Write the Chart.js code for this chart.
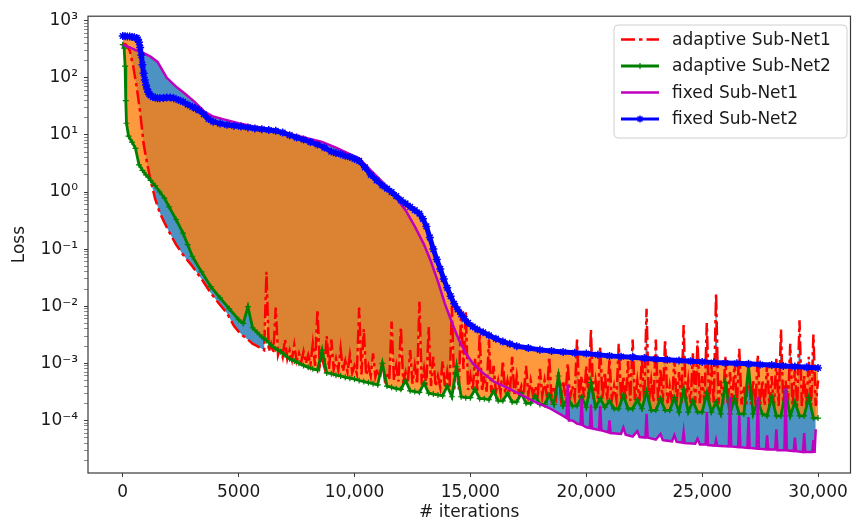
<!DOCTYPE html>
<html><head><meta charset="utf-8">
<script src="https://cdn.jsdelivr.net/npm/chart.js@4/dist/chart.umd.min.js"></script>
<style>html,body{margin:0;padding:0;background:#fff}#wrap{width:856px;height:524px}</style>
</head><body><div id="wrap"><canvas id="c" width="856" height="524"></canvas></div>
<script>
// ---------------- data ----------------
const seriesNames = ["adaptive Sub-Net1", "adaptive Sub-Net2", "fixed Sub-Net1", "fixed Sub-Net2"];
const xTickValues = [0, 5000, 10000, 15000, 20000, 25000, 30000];
const xTickLabels = ["0", "5000", "10,000", "15,000", "20,000", "25,000", "30,000"];
const yTickExps = [-4, -3, -2, -1, 0, 1, 2, 3];
const yTickLabels = ["10\u207B\u2074", "10\u207B\u00B3", "10\u207B\u00B2", "10\u207B\u00B9", "10\u2070", "10\u00B9", "10\u00B2", "10\u00B3"];

// adaptive Sub-Net1 (red)
const adaptive1EarlyIters = [0,150,300,450,600,750,900,1050,1200,1400,1600,1800,2000,2300,2600,3000,3400,3800,4200,4500,4800,5000];
const adaptive1Early = [400,380,300,160,70,25,7,3.2,1.6,0.75,0.43,0.29,0.2,0.12,0.08,0.05,0.03,0.017,0.0105,0.0075,0.0045,0.0036];
const adaptive1TailIters = [
 5100,5200,5300,5400,5500,5600,5700,5800,5900,6000, 6100,6200,6300,6400,6500,6600,6700,6800,6900,7000,
 7100,7200,7300,7400,7500,7600,7700,7800,7900,8000, 8100,8200,8300,8400,8500,8600,8700,8800,8900,9000,
 9100,9200,9300,9400,9500,9600,9700,9800,9900,10000, 10100,10200,10300,10400,10500,10600,10700,10800,10900,11000,
 11100,11200,11300,11400,11500,11600,11700,11800,11900,12000, 12100,12200,12300,12400,12500,12600,12700,12800,12900,13000,
 13100,13200,13300,13400,13500,13600,13700,13800,13900,14000, 14100,14200,14300,14400,14500,14600,14700,14800,14900,15000,
 15100,15200,15300,15400,15500,15600,15700,15800,15900,16000, 16100,16200,16300,16400,16500,16600,16700,16800,16900,17000,
 17100,17200,17300,17400,17500,17600,17700,17800,17900,18000, 18100,18200,18300,18400,18500,18600,18700,18800,18900,19000,
 19100,19200,19300,19400,19500,19600,19700,19800,19900,20000, 20100,20200,20300,20400,20500,20600,20700,20800,20900,21000,
 21100,21200,21300,21400,21500,21600,21700,21800,21900,22000, 22100,22200,22300,22400,22500,22600,22700,22800,22900,23000,
 23100,23200,23300,23400,23500,23600,23700,23800,23900,24000, 24100,24200,24300,24400,24500,24600,24700,24800,24900,25000,
 25100,25200,25300,25400,25500,25600,25700,25800,25900,26000, 26100,26200,26300,26400,26500,26600,26700,26800,26900,27000,
 27100,27200,27300,27400,27500,27600,27700,27800,27900,28000, 28100,28200,28300,28400,28500,28600,28700,28800,28900,29000,
 29100,29200,29300,29400,29500,29600,29700,29800,29900,30000];
const adaptive1Tail = [
 0.0033,0.0030,0.0028,0.0026,0.0024,0.0022,0.0021,0.0020,0.0019,0.0018, 0.0017,0.040,0.0016,0.0022,0.0015,0.0095,0.0014,0.0019,0.0013,0.0026,
 0.0012,0.0017,0.00115,0.0021,0.0011,0.0015,0.00105,0.0016,0.0010,0.0014, 0.00095,0.0022,0.0009,0.0086,0.00088,0.0012,0.00085,0.0030,0.0008,0.0026,
 0.00078,0.0012,0.00075,0.0018,0.00072,0.0011,0.0007,0.0014,0.00068,0.0009, 0.00066,0.0095,0.00064,0.0040,0.00062,0.0009,0.0006,0.0015,0.00058,0.0008,
 0.00055,0.0011,0.00053,0.0007,0.00051,0.0054,0.0005,0.0009,0.00048,0.0043, 0.00047,0.0007,0.00045,0.0017,0.00044,0.0009,0.00043,0.012,0.00042,0.0008,
 0.00041,0.0043,0.0004,0.0013,0.00039,0.0006,0.00038,0.0011,0.00037,0.0007, 0.00036,0.010,0.00035,0.0008,0.00035,0.0086,0.0008,0.0080,0.00034,0.0006,
 0.00033,0.0012,0.00033,0.0033,0.00032,0.0006,0.00032,0.0026,0.00031,0.0009, 0.00031,0.0005,0.0003,0.0011,0.0003,0.0005,0.0003,0.0013,0.00029,0.0006,
 0.00029,0.0004,0.00028,0.0009,0.00028,0.0005,0.00028,0.0004,0.00027,0.0008, 0.00027,0.0005,0.00027,0.0013,0.00026,0.0004,0.00026,0.0007,0.00026,0.0005,
 0.00026,0.0010,0.00025,0.0004,0.00025,0.0026,0.00025,0.0006,0.00025,0.0009, 0.00024,0.0039,0.00024,0.0005,0.00024,0.0019,0.00024,0.0007,0.00023,0.0012,
 0.00023,0.0004,0.00023,0.0022,0.00023,0.0006,0.00022,0.0011,0.00022,0.0026, 0.00022,0.0005,0.00022,0.0013,0.00021,0.0090,0.00021,0.0005,0.00021,0.0026,
 0.00021,0.0008,0.00021,0.0026,0.0002,0.0004,0.0002,0.0012,0.0002,0.0007, 0.0002,0.0047,0.0002,0.0005,0.0002,0.0015,0.0002,0.0025,0.0002,0.0006,
 0.0002,0.0051,0.0002,0.0009,0.0002,0.017,0.00019,0.0005,0.00019,0.0013, 0.00019,0.0007,0.00019,0.0011,0.00019,0.0018,0.00019,0.0004,0.00019,0.0009,
 0.00019,0.0005,0.00018,0.0014,0.00018,0.0005,0.00018,0.0010,0.00018,0.0006, 0.00018,0.0012,0.00018,0.0039,0.00018,0.0005,0.00018,0.0022,0.00018,0.0008,
 0.00018,0.0057,0.00018,0.0006,0.00018,0.0013,0.00018,0.0032,0.00018,0.0005];

// adaptive Sub-Net2 (green)
const adaptive2EarlyIters = [0,60,100,130,160,250,400,550,700,850,1000,1200,1400,1600,1800,2000,2300,2600,2800,3000,3400,3800,4200,4600,5000];
const adaptive2Early = [380,330,160,40,16,9.5,7.5,5.8,3.0,2.4,2.0,1.6,1.3,1.0,0.78,0.55,0.33,0.19,0.12,0.075,0.04,0.022,0.014,0.009,0.0058];
const adaptive2TailIters = [
 5200,5400,5600,5800,6000,6200,6400,6600,6800,7000, 7200,7400,7600,7800,8000,8200,8400,8600,8800,9000,
 9200,9400,9600,9800,10000,10200,10400,10600,10800,11000, 11200,11400,11600,11800,12000,12200,12400,12600,12800,13000,
 13200,13400,13600,13800,14000,14200,14400,14600,14800,15000, 15200,15400,15600,15800,16000,16200,16400,16600,16800,17000,
 17200,17400,17600,17800,18000,18200,18400,18600,18800,19000, 19200,19400,19600,19800,20000,20200,20400,20600,20800,21000,
 21200,21400,21600,21800,22000,22200,22400,22600,22800,23000, 23200,23400,23600,23800,24000,24200,24400,24600,24800,25000,
 25200,25400,25600,25800,26000,26200,26400,26600,26800,27000, 27200,27400,27600,27800,28000,28200,28400,28600,28800,29000,
 29200,29400,29600,29800,30000];
const adaptive2Tail = [
 0.0050,0.0098,0.0042,0.0035,0.0029,0.0025,0.0021,0.0018,0.0016,0.0014, 0.0012,0.0011,0.0010,0.00092,0.00085,0.00080,0.00076,0.0017,0.00068,0.00066,
 0.00062,0.0006,0.00057,0.00055,0.00053,0.0005,0.00048,0.00046,0.00044,0.00042, 0.0010,0.0004,0.00038,0.00036,0.00035,0.0005,0.00033,0.00032,0.00031,0.00045,
 0.0003,0.00029,0.00028,0.00027,0.0004,0.00026,0.00087,0.00026,0.00025,0.00025, 0.00035,0.00024,0.00024,0.00023,0.00033,0.00022,0.00022,0.0003,0.00021,0.00021,
 0.0003,0.0002,0.0002,0.00027,0.00019,0.00019,0.00028,0.00019,0.0006,0.00018, 0.00025,0.00018,0.00018,0.00026,0.00017,0.00046,0.00017,0.00024,0.00017,0.00022,
 0.00016,0.00016,0.00028,0.00016,0.00016,0.00023,0.00016,0.00032,0.00015,0.00015, 0.00024,0.00015,0.00015,0.00025,0.00014,0.00035,0.00014,0.00022,0.00014,0.00014,
 0.0003,0.00014,0.00021,0.00013,0.00046,0.00013,0.00024,0.00013,0.00013,0.00087, 0.00013,0.00022,0.00013,0.00012,0.00026,0.00012,0.00012,0.00032,0.00012,0.00021,
 0.00012,0.00012,0.00025,0.00011,0.00011];

// fixed Sub-Net1 (magenta)
const fixed1Iters = [0,300,600,900,1200,1500,1900,2300,2700,3100,3500,3900,4400,5000,5600,6200,6800,7400,8000,8600,
 9200,9800,10200,10700,11200,11700,12200,12600,13000,13300,13600,13900,14200,14500,14800,15100,15500,16000,16600,17200,
 17800,18400,19000,19150,19200,19250,19400,19600,19750,19800,19850,20000,20150,20200,20250,20550,20600,20650,20950,21000,
 21050,21500,21600,21700,22000,22200,22300,22550,22600,22650,23000,23200,23300,23700,23800,23900,24150,24200,24250,24700,
 24800,24900,25150,25200,25250,25550,25600,25650,26150,26200,26250,26550,26600,26650,26950,27000,27050,27350,27400,27450,
 27750,27800,27850,28150,28200,28250,28550,28600,28650,28950,29000,29050,29350,29400,29450,29750,29800,29850,29900];
const fixed1Loss = [380,340,300,270,235,190,100,70,52,38,26,21,18.5,16,14.2,12.8,11.6,10,8.7,7.5,
 6.0,4.6,3.9,2.4,1.5,0.9,0.48,0.25,0.12,0.06,0.027,0.011,0.0052,0.0026,0.0015,0.001,0.0007,0.00048,0.00037,0.00028,
 0.00021,0.000165,0.00012,0.00011,0.00042,0.0001,0.0001,0.000088,0.000085,0.00024,0.000082,0.000076,0.000074,0.00019,0.000072,0.000068,0.00018,0.000067,0.000062,0.0001,
 0.00006,0.000058,0.000075,0.000056,0.000052,0.000065,0.000051,0.00005,0.00013,0.00005,0.000046,0.000058,0.000045,0.000043,0.000055,0.000042,0.000041,0.000062,0.00004,0.000039,
 0.000048,0.000038,0.000038,0.00014,0.000037,0.000036,0.000045,0.000036,0.000035,0.00026,0.000035,0.000034,0.00012,0.000034,0.000033,0.000115,0.000033,0.000032,0.00026,0.000032,
 0.000031,0.000055,0.000031,0.000031,0.00007,0.00003,0.00003,0.00037,0.00003,0.000029,0.00005,0.000029,0.000028,0.00006,0.000028,0.000028,0.000045,0.000027,0.00007];

// fixed Sub-Net2 (blue)
const fixed2Iters = [0,100,200,300,400,500,600,650,700,750,800,850,900,950,1000,1050,1100,1150,1200,1300,
 1400,1500,1600,1750,1900,2050,2200,2400,2600,2800,3000,3150,3300,3500,3700,3900,4200,4500,4800,5100,
 5400,5700,6000,6300,6600,6900,7200,7500,7800,8100,8400,8700,9000,9200,9400,9600,9800,10000,10200,10450,
 10700,10950,11200,11400,11600,11800,12000,12200,12400,12600,12800,12950,13100,13250,13400,13550,13700,13850,14000,14150,
 14300,14450,14600,14750,14900,15100,15300,15550,15800,16100,16400,16700,17000,17500,18000,18500,19000,19500,20000,20500,
 21000,21500,22000,22500,23000,23500,24000,24500,25000,25500,26000,26500,27000,27500,28000,28500,29000,29500,30000];
const fixed2Loss = [540,535,530,528,520,512,500,470,420,340,250,170,120,92,75,64,56,52,49,46,
 45,44,44,44.5,45,45,44,41,38,34,31,29,27,23,19,17,15.8,15,14.5,14,
 13.5,13,12.6,12.2,11.8,11,9.9,9,8.3,7.5,6.8,6.0,5.1,4.8,4.6,4.3,4.1,3.8,3.5,2.7,
 2.0,1.6,1.3,1.15,1.0,0.85,0.72,0.63,0.55,0.48,0.42,0.34,0.25,0.16,0.10,0.066,0.045,0.03,0.021,0.015,
 0.011,0.0088,0.0072,0.006,0.0051,0.0044,0.0039,0.0035,0.0031,0.0027,0.0024,0.0022,0.0020,0.00185,0.00172,0.00165,0.00158,0.00153,0.00148,0.00141,
 0.00135,0.00131,0.00128,0.00123,0.00118,0.00115,0.00112,0.00109,0.00106,0.00103,0.00101,0.001,0.00098,0.00095,0.00093,0.0009,0.00088,0.00085,0.00083];

// ---------------- chart ----------------
const Y_MIN = 1.2e-5, Y_MAX = 1200, X_MIN = -1500, X_MAX = 31400;
function pts(xs, ys) { return xs.map((x, i) => ({x: x, y: ys[i]})); }
const FONT = 'DejaVu Sans';
Chart.defaults.font.family = FONT;
Chart.defaults.color = '#1a1a1a';

const framePlugin = {
  id: 'frame',
  afterDatasetsDraw(chart) {
    const {ctx, chartArea: a} = chart;
    ctx.save();
    ctx.strokeStyle = '#3a3a3a';
    ctx.lineWidth = 1.2;
    ctx.strokeRect(a.left, a.top, a.right - a.left, a.bottom - a.top);
    ctx.restore();
  }
};

const legendPlugin = {
  id: 'mplLegend',
  afterDraw(chart) {
    const ctx = chart.ctx;
    const bx = 614, by = 25, bw = 233, bh = 113, r = 4;
    ctx.save();
    ctx.beginPath();
    ctx.moveTo(bx + r, by); ctx.lineTo(bx + bw - r, by); ctx.arcTo(bx + bw, by, bx + bw, by + r, r);
    ctx.lineTo(bx + bw, by + bh - r); ctx.arcTo(bx + bw, by + bh, bx + bw - r, by + bh, r);
    ctx.lineTo(bx + r, by + bh); ctx.arcTo(bx, by + bh, bx, by + bh - r, r);
    ctx.lineTo(bx, by + r); ctx.arcTo(bx, by, bx + r, by, r); ctx.closePath();
    ctx.fillStyle = 'rgba(255,255,255,0.8)'; ctx.fill();
    ctx.strokeStyle = '#d0d0d0'; ctx.lineWidth = 1; ctx.stroke();
    const rows = [39.5, 66, 92.5, 119];
    const ds = chart.data.datasets;
    rows.forEach((y, i) => {
      const d = ds[i];
      ctx.save();
      ctx.strokeStyle = d.borderColor; ctx.lineWidth = Math.min(d.borderWidth, 3);
      ctx.setLineDash(d.borderDash || []);
      ctx.beginPath(); ctx.moveTo(621, y); ctx.lineTo(659, y); ctx.stroke();
      ctx.setLineDash([]);
      if (d.pointRadius) {
        ctx.lineWidth = d.pointBorderWidth;
        Chart.helpers.drawPoint(ctx, {pointStyle: d.pointStyle, radius: Math.min(d.pointRadius, 3.5), borderWidth: d.pointBorderWidth, rotation: 0}, 640, y);
      }
      ctx.restore();
      ctx.fillStyle = '#1a1a1a';
      ctx.font = '17px "' + FONT + '"';
      ctx.textBaseline = 'middle'; ctx.textAlign = 'left';
      ctx.fillText(seriesNames[i], 672, y + 1);
    });
    ctx.restore();
  }
};

new Chart(document.getElementById('c'), {
  type: 'line',
  data: {
    datasets: [
      {label: seriesNames[0], data: pts(adaptive1EarlyIters.concat(adaptive1TailIters), adaptive1Early.concat(adaptive1Tail)),
       borderColor: '#ff0000', borderWidth: 2.5, borderDash: [14, 4, 3.5, 4], pointRadius: 0,
       backgroundColor: 'rgba(31,119,180,0.8)', fill: {target: 2}, order: 3},
      {label: seriesNames[1], data: pts(adaptive2EarlyIters.concat(adaptive2TailIters), adaptive2Early.concat(adaptive2Tail)),
       borderColor: '#008000', borderWidth: 2.8, pointStyle: 'cross', pointRadius: 3, pointBorderWidth: 1.2,
       pointBorderColor: '#008000', backgroundColor: 'rgba(255,127,14,0.8)', fill: {target: 3}, order: 2},
      {label: seriesNames[2], data: pts(fixed1Iters, fixed1Loss),
       borderColor: '#bf00bf', borderWidth: 2.5, pointRadius: 0, fill: false, order: 1},
      {label: seriesNames[3], data: pts(fixed2Iters, fixed2Loss),
       borderColor: '#0000ff', borderWidth: 5, pointStyle: 'star', pointRadius: 4, pointBorderWidth: 1.5,
       pointBorderColor: '#0000ff', backgroundColor: '#0000ff', fill: false, order: 0}
    ]
  },
  options: {
    responsive: false, animation: false, devicePixelRatio: 1,
    layout: {padding: {left: 0, right: 2, top: 16, bottom: 0}},
    plugins: {
      legend: {display: false}, tooltip: {enabled: false},
      filler: {drawTime: 'beforeDatasetsDraw', propagate: false}
    },
    scales: {
      x: {
        type: 'linear', min: X_MIN, max: X_MAX,
        afterBuildTicks: (s) => { s.ticks = xTickValues.map(v => ({value: v})); },
        afterFit: (s) => { s.height = 51; },
        ticks: {autoSkip: false, maxRotation: 0, padding: 5, font: {size: 17}, color: '#1a1a1a',
          callback: (v) => { const i = xTickValues.indexOf(v); return i >= 0 ? xTickLabels[i] : ''; }},
        grid: {display: true, drawOnChartArea: false, drawTicks: true, tickLength: 4, tickColor: '#3a3a3a', tickWidth: 1},
        border: {display: false},
        title: {display: true, text: '# iterations', font: {size: 17}, color: '#1a1a1a', padding: {top: 0, bottom: 1}}
      },
      y: {
        type: 'logarithmic', min: Y_MIN, max: Y_MAX,
        afterBuildTicks: (s) => {
          const t = [];
          for (let e = -5; e <= 3; e++) for (let m = 1; m <= 9; m++) {
            const v = m * Math.pow(10, e);
            if (v >= Y_MIN && v <= Y_MAX) t.push({value: v, major: m === 1});
          }
          s.ticks = t;
        },
        afterFit: (s) => { s.width = 88; },
        ticks: {autoSkip: false, padding: 6, font: {size: 17}, color: '#1a1a1a',
          callback: (v, i, ticks) => {
            if (!ticks[i].major) return '';
            const e = Math.round(Math.log10(v));
            const k = yTickExps.indexOf(e);
            return k >= 0 ? yTickLabels[k] : '';
          }},
        grid: {display: true, drawOnChartArea: false, drawTicks: true, tickLength: 4, tickColor: '#3a3a3a',
          tickWidth: (c) => (c.tick && c.tick.major) ? 1 : 0.6},
        border: {display: false},
        title: {display: true, text: 'Loss', font: {size: 17}, color: '#1a1a1a', padding: {top: 9, bottom: 0}}
      }
    }
  },
  plugins: [framePlugin, legendPlugin]
});
</script></body></html>
